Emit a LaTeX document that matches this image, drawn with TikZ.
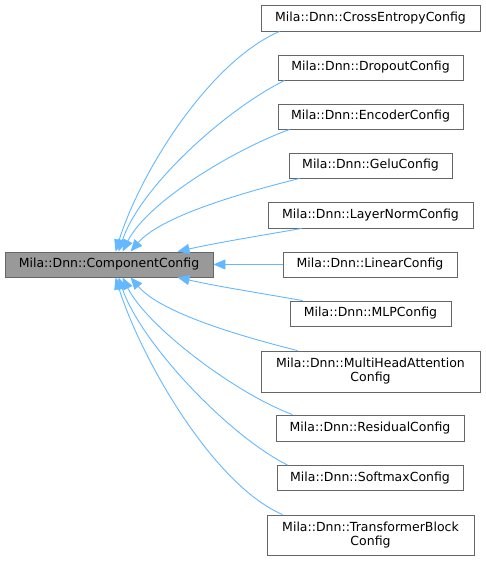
\documentclass[tikz,border=0pt]{standalone}
\usepackage{fontspec}
\setmainfont{DejaVu Sans}
\usetikzlibrary{arrows.meta,calc}
\definecolor{edgeblue}{RGB}{99,184,255}
\definecolor{boxgray}{RGB}{102,102,102}
\definecolor{mainfill}{RGB}{153,153,153}
\begin{document}
\begin{tikzpicture}[x=1pt,y=-1pt,
  cls/.style={draw=boxgray, line width=0.9pt, inner sep=0pt, align=center,
    font=\fontsize{12.5}{14}\selectfont, minimum height=25pt},
  inh/.style={draw=edgeblue, line width=0.9pt, -{Triangle[length=12pt,width=10pt]}}]
\useasboundingbox (0,0) rectangle (485,561);

\node[cls, fill=mainfill, minimum width=208pt] (main) at (109,264.5) {Mila::Dnn::ComponentConfig};

\node[cls, minimum width=219pt, minimum height=26pt] (ce) at (370.5,18) {Mila::Dnn::CrossEntropyConfig};
\node[cls, minimum width=185pt] (drop) at (370.5,67.5) {Mila::Dnn::DropoutConfig};
\node[cls, minimum width=185pt] (enc) at (370.5,116.5) {Mila::Dnn::EncoderConfig};
\node[cls, minimum width=163pt] (gelu) at (370.5,165.5) {Mila::Dnn::GeluConfig};
\node[cls, minimum width=205pt, minimum height=26pt] (ln) at (370.5,215) {Mila::Dnn::LayerNormConfig};
\node[cls, minimum width=174pt] (lin) at (370,264.5) {Mila::Dnn::LinearConfig};
\node[cls, minimum width=161pt] (mlp) at (370.5,313.5) {Mila::Dnn::MLPConfig};
\node[cls, minimum width=219pt, minimum height=41pt] (mha) at (370.5,371.5) {Mila::Dnn::MultiHeadAttention\\Config};
\node[cls, minimum width=188pt, minimum height=26pt] (res) at (370,428) {Mila::Dnn::ResidualConfig};
\node[cls, minimum width=186pt] (soft) at (370,478) {Mila::Dnn::SoftmaxConfig};
\node[cls, minimum width=207pt, minimum height=40pt] (tb) at (370.5,535) {Mila::Dnn::TransformerBlock\\Config};

% upper edges
\draw[inh] ($(ce.south west)+(19,0)$) .. controls +(-70,30) and +(25,-80) .. ($(main.north west)+(111,0)$);
\draw[inh] ($(drop.south west)+(7,0)$) .. controls +(-60,30) and +(22,-65) .. ($(main.north west)+(114,0)$);
\draw[inh] ($(enc.south west)+(12,0)$) .. controls +(-55,20) and +(25,-50) .. ($(main.north west)+(118,0)$);
\draw[inh] ($(gelu.south west)+(11,0)$) .. controls +(-60,15) and +(30,-35) .. ($(main.north west)+(126,0)$);
\draw[inh] ($(ln.south west)+(34,0)$) .. controls +(-40,7) and +(40,-9) .. ($(main.north west)+(173,0)$);
% middle
\draw[inh] (lin.west) -- (main.east);
% lower edges
\draw[inh] ($(mlp.north west)+(13,0)$) .. controls +(-40,-7) and +(40,9) .. ($(main.south west)+(173,0)$);
\draw[inh] ($(mha.north west)+(37,0)$) .. controls +(-60,-15) and +(30,35) .. ($(main.south west)+(126,0)$);
\draw[inh] ($(res.north west)+(17,0)$) .. controls +(-55,-20) and +(25,50) .. ($(main.south west)+(118,0)$);
\draw[inh] ($(soft.north west)+(11,0)$) .. controls +(-60,-30) and +(22,65) .. ($(main.south west)+(114,0)$);
\draw[inh] ($(tb.north west)+(16,0)$) .. controls +(-70,-30) and +(25,80) .. ($(main.south west)+(111,0)$);
\end{tikzpicture}
\end{document}
